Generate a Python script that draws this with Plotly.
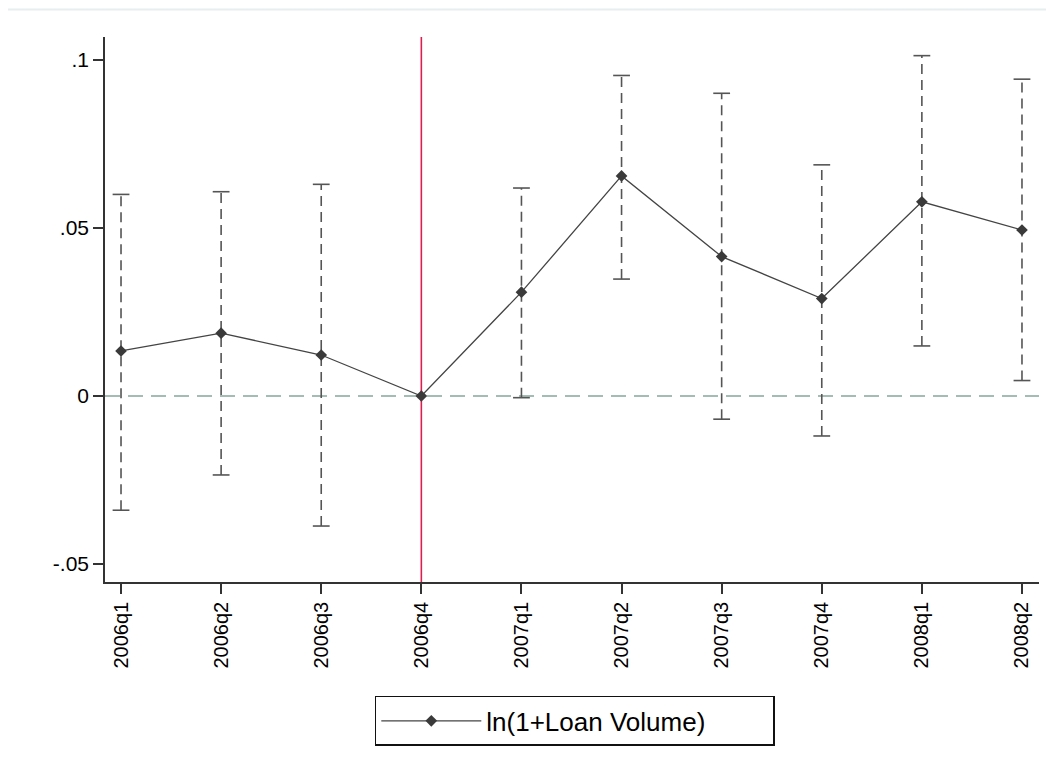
import plotly.graph_objects as go

quarters = ["2006q1", "2006q2", "2006q3", "2006q4", "2007q1",
            "2007q2", "2007q3", "2007q4", "2008q1", "2008q2"]
estimate = [0.0134, 0.0187, 0.0122, 0.0, 0.0309, 0.0655, 0.0415, 0.0290, 0.0578, 0.0494]
ci_low = [-0.0340, -0.0235, -0.0387, None, -0.0005, 0.0348, -0.0069, -0.0119, 0.0149, 0.0046]
ci_high = [0.0600, 0.0608, 0.0630, None, 0.0619, 0.0954, 0.0901, 0.0688, 0.1013, 0.0943]
ytick_vals = [-0.05, 0, 0.05, 0.1]
ytick_text = ["-.05", "0", ".05", ".1"]
event_index = 3
series_name = "ln(1+Loan Volume)"

xs = list(range(len(quarters)))

fig = go.Figure()

# CI dashed segments
cx, cy = [], []
capx, capy = [], []
for i, lo, hi in zip(xs, ci_low, ci_high):
    if lo is None or hi is None:
        continue
    cx += [i, i, None]
    cy += [lo, hi, None]
    capx += [i, i]
    capy += [lo, hi]

fig.add_trace(go.Scatter(x=cx, y=cy, mode="lines",
                         line=dict(color="#555555", width=1.6, dash="10px,6px"),
                         showlegend=False, hoverinfo="skip"))
fig.add_trace(go.Scatter(x=capx, y=capy, mode="markers",
                         marker=dict(symbol="line-ew", size=12,
                                     line=dict(color="#555555", width=1.6)),
                         showlegend=False, hoverinfo="skip"))
fig.add_trace(go.Scatter(x=xs, y=estimate, mode="lines+markers", name=series_name,
                         line=dict(color="#444444", width=1.3),
                         marker=dict(symbol="diamond", size=9, color="#3a3a3a")))

# zero reference line
fig.add_shape(type="line", xref="paper", yref="y", x0=0, x1=1, y0=0, y1=0,
              line=dict(color="#86a89c", width=1.6, dash="15px,8px"), layer="below")
# event line
fig.add_shape(type="line", xref="x", yref="paper", x0=xs[event_index], x1=xs[event_index],
              y0=0, y1=1, line=dict(color="#dc1f4e", width=1.6), layer="below")
# top border line of image
fig.add_shape(type="line", xref="paper", yref="paper", x0=-0.104, x1=1.03,
              y0=1.0505, y1=1.0505, line=dict(color="#e6eeee", width=2))

fig.update_layout(
    width=1054, height=773,
    margin=dict(l=97, r=23, t=29, b=199),
    paper_bgcolor="white", plot_bgcolor="white",
    font=dict(family="Arial, Liberation Sans, sans-serif", color="#000000"),
    xaxis=dict(range=[-0.16, 9.17], tickvals=xs, ticktext=quarters, tickangle=-90,
               showgrid=False, zeroline=False, showline=True, linecolor="#333333",
               linewidth=1.6, ticks="outside", ticklen=10, tickwidth=1.6,
               tickcolor="#333333", tickfont=dict(size=20)),
    yaxis=dict(range=[-0.05536, 0.10685], tickvals=ytick_vals, ticktext=ytick_text,
               showgrid=False, zeroline=False, showline=True, linecolor="#333333",
               linewidth=1.6, ticks="outside", ticklen=10, tickwidth=1.6,
               tickcolor="#333333", tickfont=dict(size=21)),
    showlegend=True,
    legend=dict(x=0.503, y=-0.209, xanchor="center", yanchor="top",
                orientation="h",
                bordercolor="#111111", borderwidth=1.5, bgcolor="white",
                font=dict(size=26), itemwidth=100,
                entrywidth=282, entrywidthmode="pixels"),
)

fig.write_html("out.html")
